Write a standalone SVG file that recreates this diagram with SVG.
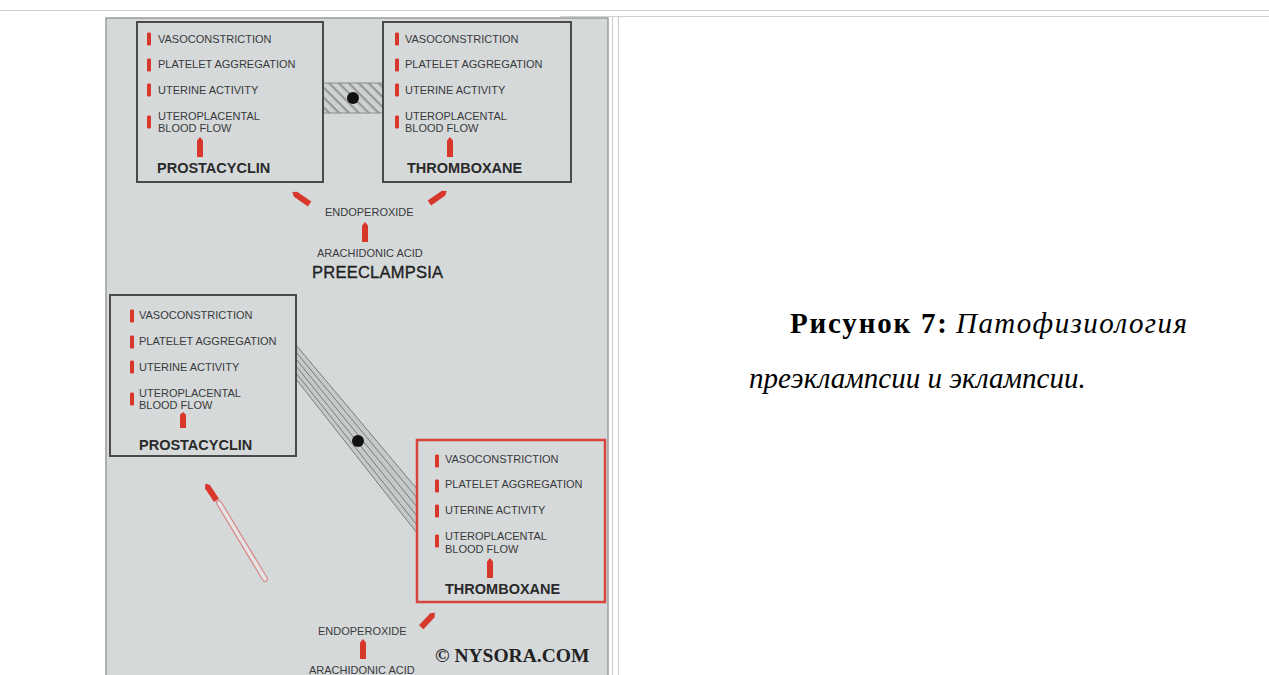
<svg xmlns="http://www.w3.org/2000/svg" width="1269" height="675" viewBox="0 0 1269 675">
<style>
.sm{font-family:"Liberation Sans",Arial,sans-serif;font-size:11px;fill:#3a3a3a}
.big{font-family:"Liberation Sans",Arial,sans-serif;font-size:14.5px;font-weight:bold;fill:#2a2a2a}
.box{fill:none;stroke:#4a4a4a;stroke-width:2}
.rbox{fill:none;stroke:#d9443c;stroke-width:2.5}
.bar{fill:#d8382c}
.arr{fill:#d8382c}
.tbl{stroke:#d0d0d0;stroke-width:1.2;fill:none}
.cap{font-family:"Liberation Serif","Times New Roman",serif;font-size:29px;fill:#000}
</style>
<defs>
<path id="up" d="M0,-10 L3,-6.5 L3,10 L-3,10 L-3,-6.5 Z"/>
<rect id="b" x="-2" y="-6.5" width="4" height="13" rx="1.2"/>
<pattern id="hatch" width="7" height="7" patternUnits="userSpaceOnUse" patternTransform="rotate(45)">
<rect width="7" height="7" fill="#cfd2d2"/>
<rect width="7" height="2.2" fill="#979999"/>
</pattern>
</defs>
<rect width="1269" height="675" fill="#ffffff"/>
<g id="table">
<line class="tbl" x1="0" y1="10.5" x2="1269" y2="10.5"/>
<line class="tbl" x1="560" y1="16.5" x2="1269" y2="16.5"/>
<line class="tbl" x1="612.5" y1="16" x2="612.5" y2="675"/>
<line class="tbl" x1="618.5" y1="16" x2="618.5" y2="675"/>
</g>
<g id="figure">
<rect x="106" y="18" width="502" height="660" fill="#d5d9da" stroke="#9a9c9c" stroke-width="1.5"/>
</g>
<g id="connectors">
<rect x="323" y="83" width="60" height="30" fill="url(#hatch)"/>
<line x1="323" y1="83" x2="383" y2="83" stroke="#8a8a8a" stroke-width="1"/>
<line x1="323" y1="113" x2="383" y2="113" stroke="#8a8a8a" stroke-width="1"/>
<circle cx="353" cy="98" r="6" fill="#111"/>
<polygon points="296,345 417,489 417,533 296,379" fill="#c6c9ca"/>
<g stroke="#707272" stroke-width="0.9" fill="none">
<line x1="296" y1="345" x2="417" y2="489"/>
<line x1="296" y1="352" x2="417" y2="498"/>
<line x1="296" y1="359" x2="417" y2="507"/>
<line x1="296" y1="366" x2="417" y2="516"/>
<line x1="296" y1="373" x2="417" y2="525"/>
<line x1="296" y1="379" x2="417" y2="533"/>
</g>
<circle cx="358" cy="441" r="6" fill="#111"/>
<use href="#up" class="arr" transform="translate(301,198) rotate(-55) scale(1,1.05)"/>
<use href="#up" class="arr" transform="translate(438,197) rotate(55) scale(1,1.05)"/>
<use href="#up" class="arr" transform="translate(365,232)"/>
<line x1="219" y1="503" x2="265" y2="579" stroke="#d88888" stroke-width="6" stroke-linecap="round"/>
<line x1="219" y1="503" x2="265" y2="579" stroke="#e4e4e4" stroke-width="3.6" stroke-linecap="round"/>
<use href="#up" class="arr" transform="translate(211,492) rotate(-33)"/>
<use href="#up" class="arr" transform="translate(428,620) rotate(43)"/>
<use href="#up" class="arr" transform="translate(363,649)"/>
</g>
<g id="box-prostacyclin-top">
<rect class="box" x="137" y="22" width="186" height="160"/>
<use href="#b" class="bar" x="149" y="39"/>
<use href="#b" class="bar" x="149" y="65"/>
<use href="#b" class="bar" x="149" y="90"/>
<use href="#b" class="bar" x="149" y="122"/>
<text class="sm" x="158" y="43">VASOCONSTRICTION</text>
<text class="sm" x="158" y="68">PLATELET AGGREGATION</text>
<text class="sm" x="158" y="94">UTERINE ACTIVITY</text>
<text class="sm" x="158" y="120">UTEROPLACENTAL</text>
<text class="sm" x="158" y="132">BLOOD FLOW</text>
<use href="#up" class="arr" transform="translate(200,147)"/>
<text class="big" x="157" y="173">PROSTACYCLIN</text>
</g>
<g id="box-thromboxane-top">
<rect class="box" x="383" y="22" width="188" height="160"/>
<use href="#b" class="bar" x="397" y="39"/>
<use href="#b" class="bar" x="397" y="65"/>
<use href="#b" class="bar" x="397" y="90"/>
<use href="#b" class="bar" x="397" y="122"/>
<text class="sm" x="405" y="43">VASOCONSTRICTION</text>
<text class="sm" x="405" y="68">PLATELET AGGREGATION</text>
<text class="sm" x="405" y="94">UTERINE ACTIVITY</text>
<text class="sm" x="405" y="120">UTEROPLACENTAL</text>
<text class="sm" x="405" y="132">BLOOD FLOW</text>
<use href="#up" class="arr" transform="translate(450,147)"/>
<text class="big" x="407" y="173">THROMBOXANE</text>
</g>
<g id="pathway-top">
<text class="sm" x="325" y="216">ENDOPEROXIDE</text>
<text class="sm" x="317" y="257">ARACHIDONIC ACID</text>
<text x="312" y="278" font-family="'Liberation Sans',Arial,sans-serif" font-size="16.5" fill="#222" stroke="#222" stroke-width="0.35" textLength="131">PREECLAMPSIA</text>
</g>
<g id="box-prostacyclin-bottom">
<rect class="box" x="110" y="295" width="186" height="161"/>
<use href="#b" class="bar" x="132" y="316"/>
<use href="#b" class="bar" x="132" y="342"/>
<use href="#b" class="bar" x="132" y="367"/>
<use href="#b" class="bar" x="132" y="399"/>
<text class="sm" x="139" y="319">VASOCONSTRICTION</text>
<text class="sm" x="139" y="345">PLATELET AGGREGATION</text>
<text class="sm" x="139" y="371">UTERINE ACTIVITY</text>
<text class="sm" x="139" y="397">UTEROPLACENTAL</text>
<text class="sm" x="139" y="409">BLOOD FLOW</text>
<use href="#up" class="arr" transform="translate(183,420) scale(1,0.8)"/>
<text class="big" x="139" y="450">PROSTACYCLIN</text>
</g>
<g id="box-thromboxane-bottom">
<rect class="rbox" x="417" y="440" width="188" height="162"/>
<use href="#b" class="bar" x="437" y="461"/>
<use href="#b" class="bar" x="437" y="486"/>
<use href="#b" class="bar" x="437" y="511"/>
<use href="#b" class="bar" x="437" y="541"/>
<text class="sm" x="445" y="463">VASOCONSTRICTION</text>
<text class="sm" x="445" y="488">PLATELET AGGREGATION</text>
<text class="sm" x="445" y="514">UTERINE ACTIVITY</text>
<text class="sm" x="445" y="540">UTEROPLACENTAL</text>
<text class="sm" x="445" y="553">BLOOD FLOW</text>
<use href="#up" class="arr" transform="translate(490,568)"/>
<text class="big" x="445" y="594">THROMBOXANE</text>
</g>
<g id="pathway-bottom">
<text class="sm" x="318" y="635">ENDOPEROXIDE</text>
<text class="sm" x="309" y="674">ARACHIDONIC ACID</text>
<text x="435" y="662" font-family="'Liberation Serif','Times New Roman',serif" font-size="19.5" font-weight="bold" fill="#222">© NYSORA.COM</text>
</g>
<g id="caption">
<text class="cap" x="790" y="333" font-weight="bold" font-size="30" textLength="157" lengthAdjust="spacing">Рисунок 7:</text>
<text class="cap" x="956" y="333" font-style="italic" textLength="231" lengthAdjust="spacing">Патофизиология</text>
<text class="cap" x="749" y="388" font-style="italic">преэклампсии и эклампсии.</text>
</g>
</svg>
